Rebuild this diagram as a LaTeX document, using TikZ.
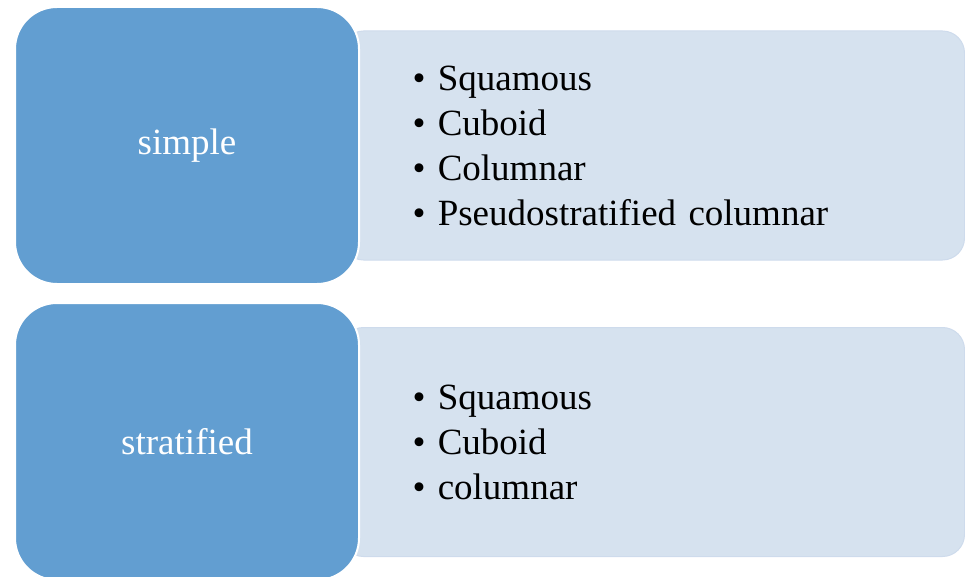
\documentclass[tikz,border=0pt]{standalone}
\usepackage{fontspec}
\setmainfont{Liberation Serif}
\usepackage{xcolor}
\usepackage{tikz}
\definecolor{cellblue}{RGB}{98,158,209}
\definecolor{listfill}{RGB}{214,226,239}
\definecolor{listline}{RGB}{206,219,236}

\begin{document}
\begin{tikzpicture}[
    x=1pt, y=-1pt,
    every node/.style={font=\fontsize{37}{45}\selectfont},
    typebox/.style={rectangle, rounded corners=42pt, draw=white, line width=2pt, fill=cellblue, text=white, minimum width=344pt, minimum height=277pt},
    listbox/.style={rectangle, rounded corners=22pt, draw=listline, line width=1pt, fill=listfill, text width=481pt, align=left, inner xsep=71pt, minimum height=229pt}
]
\useasboundingbox (0,0) rectangle (965,577);
% Simple
\node[listbox, anchor=east] (simplelist) at (965,145.5) {• Squamous\\ • Cuboid\\ • Columnar\\ • Pseudostratified columnar};
\node[typebox] (simple) at (187,145.5) {simple};

% Stratified
\node[listbox, anchor=east] (stratlist) at (965,442) {• Squamous\\ • Cuboid\\ • columnar};
\node[typebox] (strat) at (187,441.5) {stratified};
\end{tikzpicture}
\end{document}
